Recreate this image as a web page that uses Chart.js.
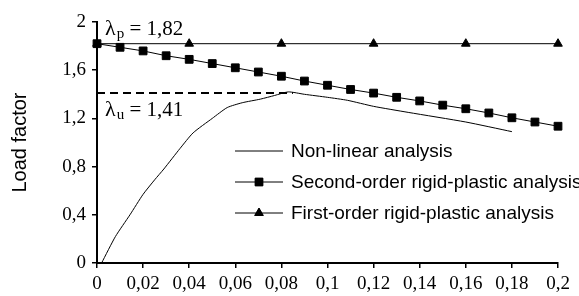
<!DOCTYPE html>
<html>
<head>
<meta charset="utf-8">
<script src="https://cdn.jsdelivr.net/npm/chart.js@4/dist/chart.umd.min.js"></script>
<style>
html,body{margin:0;padding:0;background:#fff;}
#wrap{width:579px;height:296px;position:relative;}
</style>
</head>
<body>
<div id="wrap"><canvas id="c" width="579" height="296"></canvas></div>
<script>
// ---- data ----
const xSecond = [0,0.01,0.02,0.03,0.04,0.05,0.06,0.07,0.08,0.09,0.1,0.11,0.12,0.13,0.14,0.15,0.16,0.17,0.18,0.19,0.2];
const secondOrder = [1.82,1.79,1.76,1.72,1.69,1.655,1.62,1.585,1.55,1.51,1.475,1.44,1.41,1.375,1.345,1.31,1.28,1.245,1.205,1.17,1.135];
const xFirst = [0,0.04,0.08,0.12,0.16,0.2];
const firstOrder = [1.82,1.82,1.82,1.82,1.82,1.82];
const xNonLinear = [0.002,0.008,0.0143,0.02,0.025,0.029,0.036,0.0417,0.05,0.0565,0.063,0.0709,0.077,0.083,0.09,0.1,0.1087,0.12,0.135,0.16,0.18];
const nonLinear = [0,0.22,0.4,0.57,0.69,0.78,0.95,1.08,1.2,1.29,1.33,1.36,1.39,1.42,1.40,1.375,1.35,1.30,1.25,1.17,1.09];
const lambdaP = 1.82;
const lambdaU = 1.41;
const xLambdaUEnd = 0.085;
const yTicks = [0,0.4,0.8,1.2,1.6,2];
const xTicks = [0,0.02,0.04,0.06,0.08,0.1,0.12,0.14,0.16,0.18,0.2];
const legendLabels = ['Non-linear analysis','Second-order rigid-plastic analysis','First-order rigid-plastic analysis'];
const yTitle = 'Load factor';

const toPts = (xs, ys) => xs.map((x,i)=>({x:x,y:ys[i]}));
const fmt = v => String(Number(v.toFixed(2))).replace('.', ',');

const annot = {
  id:'annot',
  afterDraw(chart){
    const ctx = chart.ctx, xs = chart.scales.x, ys = chart.scales.y;
    ctx.save();
    ctx.fillStyle = '#000';
    function lam(sub, val, x, yb){
      ctx.font = '22px "Liberation Serif"';
      ctx.textBaseline = 'alphabetic';
      ctx.textAlign = 'left';
      ctx.fillText('λ', x, yb);
      let w = ctx.measureText('λ').width;
      ctx.font = '15px "Liberation Serif"';
      ctx.fillText(sub, x + w + 1, yb + 3);
      let w2 = ctx.measureText(sub).width;
      ctx.font = '21px "Liberation Serif"';
      ctx.fillText(' = ' + fmt(val), x + w + w2 + 1, yb);
    }
    const x0 = xs.getPixelForValue(0) + 8;
    lam('p', lambdaP, x0, ys.getPixelForValue(lambdaP) - 9);
    lam('u', lambdaU, x0, ys.getPixelForValue(lambdaU) + 23);
    // legend
    const lx0 = 235, lx1 = 283, tx = 291;
    const rows = [151, 182, 213];
    const ds = chart.data.datasets;
    [0,1,2].forEach(i=>{
      const d = ds[i], y = rows[i];
      ctx.strokeStyle = '#000';
      ctx.lineWidth = 1;
      ctx.beginPath(); ctx.moveTo(lx0, y); ctx.lineTo(lx1, y); ctx.stroke();
      if (d.pointStyle && d.pointRadius > 0) {
        Chart.helpers.drawPoint(ctx, {pointStyle: d.pointStyle, radius: d.pointRadius, borderWidth: 1}, (lx0+lx1)/2, y);
        ctx.fillStyle = '#000';
        ctx.fill();
      }
      ctx.fillStyle = '#000';
      ctx.font = '19px "Liberation Sans"';
      ctx.textBaseline = 'middle';
      ctx.textAlign = 'left';
      ctx.fillText(legendLabels[i], tx, y + 1);
    });
    ctx.restore();
  }
};

new Chart(document.getElementById('c'), {
  type: 'scatter',
  data: {
    datasets: [
      {label: legendLabels[0], data: toPts(xNonLinear, nonLinear), showLine: true, borderColor:'#000', borderWidth:1, pointRadius:0, tension:0.2, clip:false},
      {label: legendLabels[1], data: toPts(xSecond, secondOrder), showLine: true, borderColor:'#000', backgroundColor:'#000', borderWidth:1, pointStyle:'rect', pointRadius:5.5, clip:false},
      {label: legendLabels[2], data: toPts(xFirst, firstOrder), showLine: true, borderColor:'#000', backgroundColor:'#000', borderWidth:1, pointStyle:'triangle', pointRadius:5, clip:false},
      {label: 'lambda_u', data: [{x:0,y:lambdaU},{x:xLambdaUEnd,y:lambdaU}], showLine:true, borderColor:'#000', borderWidth:2, borderDash:[8,5], pointRadius:0, clip:false}
    ]
  },
  options: {
    responsive: false,
    animation: false,
    layout: {padding: {top: 22, right: 21, left: 0, bottom: 0}},
    plugins: {legend: {display: false}, tooltip: {enabled: false}},
    scales: {
      x: {
        type: 'linear', min: 0, max: 0.2,
        afterBuildTicks: s => { s.ticks = xTicks.map(v=>({value:v})); },
        afterFit: s => { s.height = 33; },
        grid: {display: true, drawOnChartArea: false, drawTicks: true, tickLength: 5, color: '#000', lineWidth: 1.5},
        border: {display: true, color: '#000', width: 2},
        ticks: {color: '#000', font: {family: 'Liberation Serif', size: 19}, padding: 5, maxRotation: 0, autoSkip: false, callback: v => fmt(v)}
      },
      y: {
        type: 'linear', min: 0, max: 2,
        afterBuildTicks: s => { s.ticks = yTicks.map(v=>({value:v})); },
        afterFit: s => { s.width = 97; },
        grid: {display: true, drawOnChartArea: false, drawTicks: true, tickLength: 5, color: '#000', lineWidth: 1.5},
        border: {display: true, color: '#000', width: 2},
        title: {display: true, text: yTitle, color: '#000', font: {family: 'Liberation Sans', size: 20}, padding: {top: 8, bottom: 0}},
        ticks: {color: '#000', font: {family: 'Liberation Serif', size: 19}, padding: 6, callback: v => fmt(v)}
      }
    }
  },
  plugins: [annot]
});
</script>
</body>
</html>
